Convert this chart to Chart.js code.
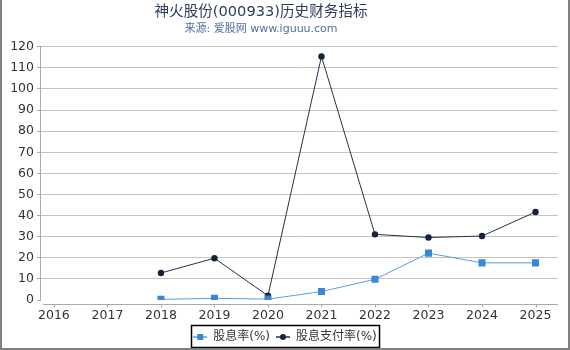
<!DOCTYPE html>
<html>
<head>
<meta charset="utf-8">
<script src="https://cdn.jsdelivr.net/npm/chart.js@4/dist/chart.umd.min.js"></script>
<style>
  html, body { margin: 0; padding: 0; background: #fff; }
  #wrap { width: 570px; height: 350px; }
</style>
</head>
<body>
<div id="wrap"><canvas id="c" width="570" height="350"></canvas></div>
<script>
// data
var years = [2016, 2017, 2018, 2019, 2020, 2021, 2022, 2023, 2024, 2025];
var dividendYield = [null, null, 0.3, 0.8, 0.4, 4.0, 9.8, 22.2, 17.6, 17.6];
var payoutRatio = [null, null, 12.8, 19.8, 2.0, 115.4, 31.1, 29.6, 30.3, 41.7];
var yTicks = [0, 10, 20, 30, 40, 50, 60, 70, 80, 90, 100, 110, 120];

var FONT = "'DejaVu Sans', 'Noto Sans CJK SC', sans-serif";
var BLUE = '#3a86d9', BLUE_LINE = '#5d9de3';
var DARK = '#14233a', DARK_LINE = '#22324c';
var PLOT_BOTTOM = 300;

function points(vals) {
    var out = [];
    for (var i = 0; i < years.length; i++) {
        if (vals[i] !== null) out.push({x: years[i], y: vals[i]});
    }
    return out;
}

// little legend symbols: a line with the marker on it
function legendIcon(lineCol, fillCol, square) {
    var cv = document.createElement('canvas');
    cv.width = 14; cv.height = 8;
    var g = cv.getContext('2d');
    g.strokeStyle = lineCol; g.lineWidth = 1.5;
    g.beginPath(); g.moveTo(0, 4); g.lineTo(14, 4); g.stroke();
    g.fillStyle = fillCol;
    if (square) g.fillRect(4, 1, 6, 6);
    else { g.beginPath(); g.arc(7, 4, 3, 0, Math.PI * 2); g.fill(); }
    return cv;
}
var icons = [legendIcon(BLUE_LINE, BLUE, true), legendIcon(DARK_LINE, DARK, false)];

var decor = {
    id: 'decor',
    afterLayout: function(chart) {
        // the reference titles sit a bit left of centre, the legend at the true centre
        chart.boxes.forEach(function(b) {
            if (b.options && typeof b.options.text === 'string') {
                b.left -= 18; b.right -= 18;
            }
        });
        var lg = chart.legend;
        lg.left += 6; lg.right += 6;
        lg.top += 3; lg.bottom += 3;
    },
    afterDraw: function(chart) {
        var ctx = chart.ctx, a = chart.chartArea, xs = chart.scales.x;
        ctx.save();
        // x axis sits a few px below the plot
        var ay = Math.round(a.bottom) + 4.5;
        ctx.strokeStyle = '#aaaaaa'; ctx.lineWidth = 1;
        ctx.beginPath(); ctx.moveTo(a.left + 3, ay); ctx.lineTo(a.right, ay); ctx.stroke();
        years.forEach(function(yr) {
            var px = Math.round(xs.getPixelForValue(yr)) + 0.5;
            ctx.beginPath(); ctx.moveTo(px, ay); ctx.lineTo(px, ay + 3); ctx.stroke();
        });
        // legend frame
        var hb = chart.legend.legendHitBoxes;
        if (hb && hb.length) {
            var l = hb[0].left, r = hb[hb.length - 1].left + hb[hb.length - 1].width;
            var t = hb[0].top;
            ctx.strokeStyle = '#000'; ctx.lineWidth = 1.5;
            ctx.strokeRect(Math.round(l) - 1.5, Math.round(t) - 5.5, Math.round(r - l) + 4, 22);
        }
        // outer frame (left, right, bottom)
        ctx.fillStyle = '#808080';
        ctx.fillRect(0, 0, 2, 350);
        ctx.fillRect(568, 0, 2, 350);
        ctx.fillRect(0, 348, 570, 2);
        ctx.restore();
    }
};

new Chart(document.getElementById('c'), {
    type: 'line',
    data: {
        datasets: [{
            label: '股息率(%)',
            data: points(dividendYield),
            borderColor: BLUE_LINE,
            backgroundColor: BLUE,
            borderWidth: 1,
            pointStyle: 'rect',
            pointRadius: 5,
            pointBorderWidth: 0,
            pointBackgroundColor: BLUE,
            pointBorderColor: BLUE,
            tension: 0
        }, {
            label: '股息支付率(%)',
            data: points(payoutRatio),
            borderColor: DARK_LINE,
            backgroundColor: DARK,
            borderWidth: 1,
            pointStyle: 'circle',
            pointRadius: 3.2,
            pointBorderWidth: 0,
            pointBackgroundColor: DARK,
            pointBorderColor: DARK,
            tension: 0
        }]
    },
    options: {
        responsive: false,
        animation: false,
        layout: { padding: { left: 0, right: 12, top: 0, bottom: 0 } },
        scales: {
            x: {
                type: 'linear',
                min: 2015.74,
                max: 2025.42,
                afterBuildTicks: function(s) {
                    s.ticks = years.map(function(v) { return {value: v}; });
                },
                afterFit: function(s) {
                    s.height = 350 - PLOT_BOTTOM - s.chart.legend.height;
                },
                grid: { display: false, drawTicks: false },
                border: { display: false },
                ticks: {
                    padding: 8,
                    color: '#333',
                    font: { family: FONT, size: 12.5 },
                    maxRotation: 0,
                    autoSkip: false,
                    callback: function(v) { return String(v); }
                }
            },
            y: {
                min: 0,
                max: 120,
                afterBuildTicks: function(s) {
                    s.ticks = yTicks.map(function(v) { return {value: v}; });
                },
                afterFit: function(s) { s.width = 40; },
                grid: {
                    color: function(c) { return c.tick && c.tick.value === 0 ? 'rgba(0,0,0,0)' : '#c4c4c4'; },
                    tickColor: '#aaaaaa',
                    tickLength: 3,
                    lineWidth: 1
                },
                border: { display: true, color: '#aaaaaa', width: 1 },
                ticks: {
                    padding: 3,
                    color: '#333',
                    font: { family: FONT, size: 12.5 }
                }
            }
        },
        plugins: {
            title: {
                display: true,
                text: '神火股份(000933)历史财务指标',
                color: '#2b3e5a',
                font: { family: FONT, size: 14.6, weight: 'normal' },
                padding: { top: 3, bottom: 0 }
            },
            subtitle: {
                display: true,
                text: '来源: 爱股网 www.iguuu.com',
                color: '#4d6f9c',
                font: { family: FONT, size: 11 },
                padding: { top: 2, bottom: 11 }
            },
            legend: {
                position: 'bottom',
                labels: {
                    usePointStyle: true,
                    pointStyleWidth: 14,
                    padding: 6,
                    color: '#333',
                    font: { family: FONT, size: 12 },
                    generateLabels: function(chart) {
                        var items = Chart.defaults.plugins.legend.labels.generateLabels(chart);
                        items.forEach(function(it, i) { it.pointStyle = icons[i]; });
                        return items;
                    }
                }
            },
            tooltip: { enabled: false }
        }
    },
    plugins: [decor]
});
</script>
</body>
</html>
